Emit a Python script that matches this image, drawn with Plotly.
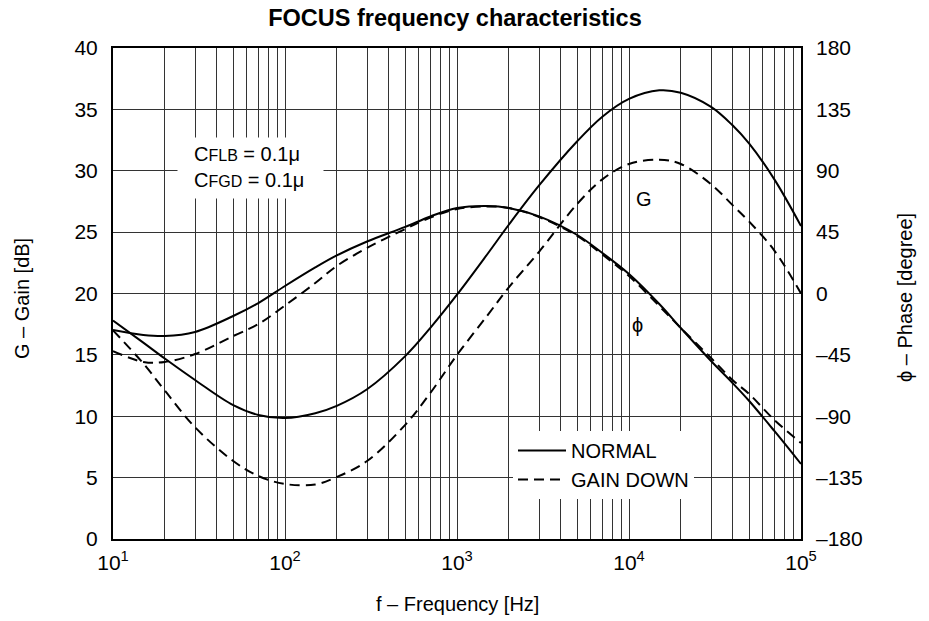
import plotly.graph_objects as go

freq = [10, 15, 20, 30, 50, 70, 100, 150, 200, 300, 500, 700, 1000, 1500, 2000,
        3000, 5000, 7000, 10000, 15000, 20000, 30000, 40000, 50000, 70000, 100000]

gain_normal = [17.8, 16.0, 14.7, 12.95, 10.9, 10.1, 9.85, 10.25, 10.85, 12.2, 14.9, 17.2, 19.9,
               23.2, 25.6, 28.8, 32.4, 34.4, 35.85, 36.55, 36.35, 35.2, 33.7, 32.2, 29.3, 25.5]
gain_down = [17.0, 14.3, 12.1, 9.1, 6.35, 5.13, 4.48, 4.44, 5.05, 6.35, 9.3, 11.9, 15.0,
             18.2, 20.5, 23.4, 27.3, 29.3, 30.55, 30.9, 30.55, 28.9, 27.2, 25.85, 23.5, 20.0]
phase_normal = [-26.8, -30.4, -31.2, -28.2, -16.5, -7.0, 5.5, 19.1, 27.9, 38.1, 48.8, 56.5, 62.7,
                64.2, 62.7, 56.5, 42.9, 29.7, 14.3, -7.7, -25.3, -49.5, -65.6, -78.8, -100.8, -125.0]
phase_down = [-42.2, -50.2, -50.2, -44.4, -31.2, -22.4, -8.8, 7.7, 20.2, 33.4, 47.3, 55.7, 62.0,
              63.8, 62.7, 56.1, 42.2, 28.6, 12.8, -9.2, -25.3, -47.3, -63.4, -73.7, -92.7, -109.6]

x_grid = [m * 10 ** d for d in range(1, 5) for m in range(1, 10)] + [100000]
x_text = ["10<sup>%d</sup>" % (d) if m == 1 else "" for d in range(1, 5) for m in range(1, 10)] + ["10<sup>5</sup>"]
gain_ticks = list(range(0, 41, 5))
phase_ticks = list(range(-180, 181, 45))
phase_text = [("\u2013%d" % -v) if v < 0 else str(v) for v in phase_ticks]

FONT = "Liberation Sans, Arial, sans-serif"
dash = "10px,6px"
lw = 2
SM = 1.0


def px_x(p):
    return (p - 113) / 688


def px_y(p):
    return (539 - p) / 491


fig = go.Figure()
fig.add_trace(go.Scatter(x=freq, y=gain_normal, mode="lines", name="NORMAL",
                         legendgroup="n", line=dict(color="black", width=lw, shape="spline", smoothing=SM)))
fig.add_trace(go.Scatter(x=freq, y=gain_down, mode="lines", name="GAIN DOWN",
                         legendgroup="d", line=dict(color="black", width=lw, dash=dash, shape="spline", smoothing=SM)))
fig.add_trace(go.Scatter(x=freq, y=phase_normal, mode="lines", name="NORMAL", yaxis="y2",
                         legendgroup="n", showlegend=False,
                         line=dict(color="black", width=lw, shape="spline", smoothing=SM)))
fig.add_trace(go.Scatter(x=freq, y=phase_down, mode="lines", name="GAIN DOWN", yaxis="y2",
                         legendgroup="d", showlegend=False,
                         line=dict(color="black", width=lw, dash=dash, shape="spline", smoothing=SM)))

fig.update_layout(
    width=929, height=621,
    margin=dict(l=113, r=128, t=48, b=82),
    paper_bgcolor="white", plot_bgcolor="white",
    font=dict(family=FONT, size=20, color="black"),
    title=dict(text="<b>FOCUS frequency characteristics</b>", x=(455 / 929), xanchor="center",
               y=1 - 18 / 621, yanchor="middle", yref="container",
               font=dict(family=FONT, size=23.5, color="black")),
    xaxis=dict(type="log", range=[1, 5], tickvals=x_grid, ticktext=x_text,
               showgrid=True, gridcolor="#333", gridwidth=1, zeroline=False,
               showline=True, linecolor="black", linewidth=2, mirror=True,
               ticks="", ticklabelstandoff=4, tickfont=dict(size=21)),
    yaxis=dict(range=[0, 40], tickvals=gain_ticks, showgrid=True, gridcolor="#333", gridwidth=1,
               zeroline=False, showline=True, linecolor="black", linewidth=2, mirror=True,
               ticks="", ticklabelstandoff=9, tickfont=dict(size=21)),
    yaxis2=dict(range=[-180, 180], tickvals=phase_ticks, ticktext=phase_text, overlaying="y",
                side="right", showgrid=False, zeroline=False, ticks="", ticklabelstandoff=14,
                tickfont=dict(size=21)),
    legend=dict(x=px_x(513), y=px_y(431), xanchor="left", yanchor="top",
                bgcolor="white", borderwidth=0, font=dict(size=20), itemwidth=48,
                tracegroupgap=0),
    showlegend=True,
)

# white box behind the capacitor note
fig.add_annotation(text=" ", xref="paper", yref="paper", x=px_x(250.5), y=px_y(168),
                   xanchor="center", yanchor="middle", showarrow=False, bgcolor="white",
                   width=145, height=60, borderpad=0)
fig.add_annotation(text="C<span style='font-size:16px'>FLB</span> = 0.1\u03bc<br>"
                        "C<span style='font-size:16px'>FGD</span> = 0.1\u03bc",
                   xref="paper", yref="paper", x=px_x(192), y=px_y(167),
                   xanchor="left", yanchor="middle", showarrow=False,
                   align="left", font=dict(size=20))
fig.add_annotation(text="G", xref="paper", yref="paper", x=px_x(654), y=px_y(186),
                   showarrow=False, font=dict(size=20))
fig.add_annotation(text="\u03d5", xref="paper", yref="paper", x=px_x(645), y=px_y(325),
                   showarrow=False, font=dict(size=20))
fig.add_annotation(text="f \u2013 Frequency [Hz]", xref="paper", yref="paper",
                   x=px_x(457), y=px_y(604), showarrow=False, font=dict(size=20),
                   yanchor="middle")
fig.add_annotation(text="G \u2013 Gain [dB]", xref="paper", yref="paper",
                   x=px_x(22), y=px_y(298), showarrow=False, textangle=-90,
                   font=dict(size=20), xanchor="center", yanchor="middle")
fig.add_annotation(text="\u03d5 \u2013 Phase [degree]", xref="paper", yref="paper",
                   x=px_x(905), y=px_y(298), showarrow=False, textangle=-90,
                   font=dict(size=20), xanchor="center", yanchor="middle")

fig.write_html("out.html", post_script="document.body.style.margin='0';",
               config={"displayModeBar": False})
